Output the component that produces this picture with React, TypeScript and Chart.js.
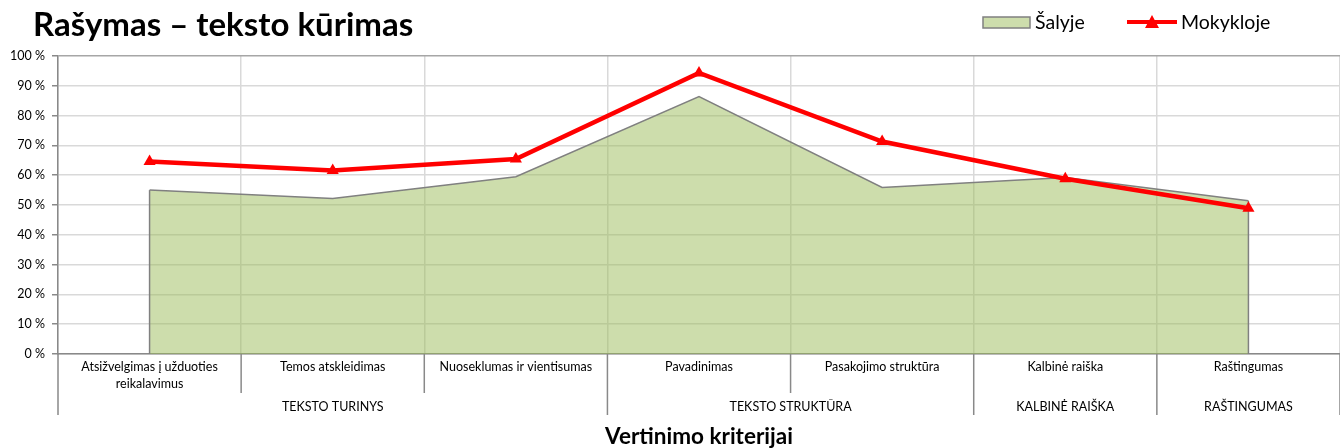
import React, { useEffect, useRef } from "react";
import { Chart, registerables } from "chart.js";

Chart.register(...registerables);

const title = "Rašymas – teksto kūrimas";
const xTitle = "Vertinimo kriterijai";
const categories: string[][] = [
  ["Atsižvelgimas į užduoties", "reikalavimus"],
  ["Temos atskleidimas"],
  ["Nuoseklumas ir vientisumas"],
  ["Pavadinimas"],
  ["Pasakojimo struktūra"],
  ["Kalbinė raiška"],
  ["Raštingumas"],
];
const groups = ["TEKSTO TURINYS", "TEKSTO STRUKTŪRA", "KALBINĖ RAIŠKA", "RAŠTINGUMAS"];
const groupSpans = [3, 2, 1, 1];
const salyje = [55.0, 52.2, 59.5, 86.4, 55.9, 59.2, 51.4];
const mokykloje = [64.6, 61.6, 65.4, 94.3, 71.3, 58.8, 48.9];
const seriesNames = ["Šalyje", "Mokykloje"];

const FONT = "Lato, 'Open Sans', sans-serif";
const AREA_FILL = "rgba(155,187,89,0.5)";
const AREA_BORDER = "#808080";
const RED = "#ff0000";

const decorPlugin = {
  id: "decor",
  afterDatasetDraw(chart: any, args: any) {
    if (args.index !== 0) return;
    const meta = chart.getDatasetMeta(0);
    const y0 = chart.scales.y.getPixelForValue(0);
    const ctx = chart.ctx;
    ctx.save();
    ctx.strokeStyle = AREA_BORDER;
    ctx.lineWidth = 1.5;
    const pts = meta.data;
    [pts[0], pts[pts.length - 1]].forEach((p: any) => {
      ctx.beginPath();
      ctx.moveTo(p.x, p.y);
      ctx.lineTo(p.x, y0);
      ctx.stroke();
    });
    ctx.restore();
  },
  afterDraw(chart: any) {
    const ctx = chart.ctx;
    const { left, right, bottom } = chart.chartArea;
    const n = categories.length;
    const w = (right - left) / n;
    ctx.save();
    ctx.strokeStyle = "#898989";
    ctx.lineWidth = 1.5;
    const groupBounds = new Set<number>();
    let acc = 0;
    groupBounds.add(0);
    groupSpans.forEach((s) => {
      acc += s;
      groupBounds.add(acc);
    });
    for (let i = 0; i <= n; i++) {
      const x = left + i * w;
      const long = groupBounds.has(i);
      ctx.beginPath();
      ctx.moveTo(x, bottom);
      ctx.lineTo(x, bottom + (long ? 61 : 39));
      ctx.stroke();
    }
    ctx.fillStyle = "#000";
    ctx.font = `12.5px ${FONT}`;
    ctx.textAlign = "center";
    ctx.textBaseline = "middle";
    let start = 0;
    groups.forEach((g, gi) => {
      const end = start + groupSpans[gi];
      const cx = left + ((start + end) / 2) * w;
      ctx.fillText(g, cx, bottom + 53);
      start = end;
    });
    ctx.font = `bold 22.5px ${FONT}`;
    ctx.fillText(xTitle, 699, 437);
    ctx.textAlign = "left";
    ctx.font = `bold 33px ${FONT}`;
    ctx.fillText(title, 33, 25);
    // legend
    ctx.fillStyle = "rgb(205,221,172)";
    ctx.fillRect(983, 17, 47, 11);
    ctx.strokeStyle = AREA_BORDER;
    ctx.lineWidth = 1.5;
    ctx.strokeRect(983, 17, 47, 11);
    ctx.fillStyle = "#000";
    ctx.font = `19.5px ${FONT}`;
    ctx.fillText(seriesNames[0], 1035, 23);
    ctx.strokeStyle = RED;
    ctx.lineWidth = 4;
    ctx.beginPath();
    ctx.moveTo(1127, 22);
    ctx.lineTo(1177, 22);
    ctx.stroke();
    ctx.fillStyle = RED;
    ctx.beginPath();
    ctx.moveTo(1152, 15);
    ctx.lineTo(1159, 28);
    ctx.lineTo(1145, 28);
    ctx.closePath();
    ctx.fill();
    ctx.fillStyle = "#000";
    ctx.fillText(seriesNames[1], 1181, 23);
    ctx.restore();
  },
};

export default function App() {
  const ref = useRef<HTMLCanvasElement>(null);
  useEffect(() => {
    if (!ref.current) return;
    const chart = new Chart(ref.current, {
      type: "line",
      data: {
        labels: categories,
        datasets: [
          {
            label: seriesNames[0],
            data: salyje,
            fill: "origin",
            backgroundColor: AREA_FILL,
            borderColor: AREA_BORDER,
            borderWidth: 1.5,
            pointRadius: 0,
            tension: 0,
            order: 2,
          },
          {
            label: seriesNames[1],
            data: mokykloje,
            fill: false,
            borderColor: RED,
            backgroundColor: RED,
            borderWidth: 4.5,
            pointStyle: "triangle",
            pointRadius: 7,
            pointBorderWidth: 0,
            tension: 0,
            order: 1,
          },
        ],
      },
      options: {
        animation: false,
        responsive: false,
        layout: { autoPadding: false, padding: { left: 0, top: 56, right: 0, bottom: 0 } },
        plugins: { legend: { display: false }, title: { display: false }, tooltip: { enabled: false } },
        scales: {
          x: {
            type: "category",
            offset: true,
            grid: {
              offset: true,
              color: "#d9d9d9",
              lineWidth: 1.5,
              drawTicks: false,
            },
            border: { color: "#898989", width: 1.5 },
            ticks: {
              autoSkip: false,
              maxRotation: 0,
              minRotation: 0,
              padding: 4,
              color: "#000",
              font: { family: FONT, size: 12.5, lineHeight: 1.36 },
            },
            afterFit(scale: any) {
              scale.height = 94;
              scale.paddingLeft = 0;
              scale.paddingRight = 0;
            },
          },
          y: {
            min: 0,
            max: 100,
            ticks: {
              stepSize: 10,
              padding: 7,
              color: "#000",
              font: { family: FONT, size: 12.5 },
              callback: (v: any) => `${v} %`,
            },
            grid: {
              color: (c: any) => (c.tick && c.tick.value === 100 ? "#a6a6a6" : "#d9d9d9"),
              lineWidth: 1.5,
              tickLength: 6,
              tickColor: "#898989",
            },
            border: { color: "#898989", width: 1.5 },
            afterFit(scale: any) {
              scale.width = 58;
            },
          },
        },
      },
      plugins: [decorPlugin],
    });
    return () => chart.destroy();
  }, []);
  return (
    <div style={{ position: "fixed", left: 0, top: 0, width: 1340, height: 448, background: "#fff" }}>
      <canvas ref={ref} width={1340} height={448} />
    </div>
  );
}
